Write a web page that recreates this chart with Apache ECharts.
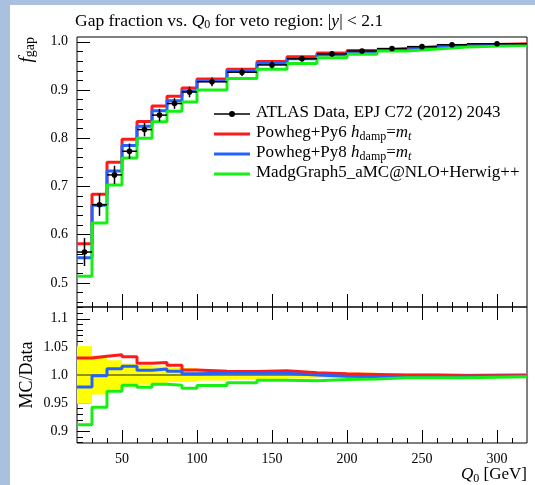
<!DOCTYPE html>
<html>
<head>
<meta charset="utf-8">
<script src="https://cdn.jsdelivr.net/npm/echarts@6/dist/echarts.min.js"></script>
<style>
  html, body { margin: 0; padding: 0; background: #fff; }
  #chart { width: 535px; height: 485px; }
</style>
</head>
<body>
<div id="chart"></div>
<script>
// Q0 bin edges [GeV]
const binEdges = [20, 30, 40, 50, 60, 70, 80, 90, 100, 120, 140, 160, 180, 200, 220, 240, 260, 280, 320];

// Gap fraction, ATLAS data and its uncertainty
const atlasData = [0.564, 0.662, 0.724, 0.773, 0.818, 0.848, 0.872, 0.896, 0.917, 0.937, 0.952, 0.965, 0.975, 0.981, 0.986, 0.990, 0.994, 0.996];
const atlasErr  = [0.029, 0.023, 0.019, 0.016, 0.014, 0.013, 0.011, 0.011, 0.009, 0.008, 0.007, 0.006, 0.005, 0.004, 0.003, 0.003, 0.003, 0.003];

// Generator predictions
const powhegPy6 = [0.581, 0.684, 0.750, 0.798, 0.835, 0.867, 0.887, 0.904, 0.923, 0.943, 0.959, 0.969, 0.977, 0.982, 0.986, 0.990, 0.993, 0.996];
const powhegPy8 = [0.552, 0.661, 0.732, 0.785, 0.825, 0.857, 0.878, 0.898, 0.920, 0.940, 0.955, 0.965, 0.973, 0.978, 0.983, 0.987, 0.992, 0.994];
const mg5Herwig = [0.514, 0.624, 0.703, 0.759, 0.800, 0.834, 0.856, 0.875, 0.900, 0.924, 0.943, 0.955, 0.967, 0.974, 0.981, 0.985, 0.989, 0.993];

// Axis ticks and labels
const xMajorTicks = [50, 100, 150, 200, 250, 300];
const xTickLabels = ['50', '100', '150', '200', '250', '300'];
const mainYTicks = [0.5, 0.6, 0.7, 0.8, 0.9, 1.0];
const mainYTickLabels = ['0.5', '0.6', '0.7', '0.8', '0.9', '1.0'];
const ratioYTicks = [0.9, 0.95, 1.0, 1.05, 1.1];
const ratioYTickLabels = ['0.9', '0.95', '1.0', '1.05', '1.1'];

function steps(lo, hi, step) {
  const out = [];
  for (let v = lo; v <= hi + 1e-9; v += step) out.push(+v.toFixed(4));
  return out;
}
const xMinorTicks = steps(30, 310, 10);
const mainYMinor = steps(0.46, 1.0, 0.02);
const ratioYMinor = steps(0.88, 1.12, 0.01);

const SERIF = 'Liberation Serif';
const RED = '#ff1a1a', BLUE = '#2462ff', GREEN = '#14f014';

// histogram outline: one point per lower edge plus the final upper edge
function histPoints(vals) {
  const pts = vals.map((v, i) => [binEdges[i], v]);
  pts.push([binEdges[binEdges.length - 1], vals[vals.length - 1]]);
  return pts;
}
const ratioOf = (mc) => mc.map((v, i) => v / atlasData[i]);

const dataRows = atlasData.map((v, i) => [binEdges[i], binEdges[i + 1], v, atlasErr[i]]);
const bandRows = atlasData.map((v, i) => [binEdges[i], binEdges[i + 1], atlasErr[i] / v]);

function xAxisDef(grid, pos, ticks, len, labels) {
  return {
    type: 'value', gridIndex: grid, position: pos, min: 20, max: 320,
    axisLine: { show: false }, splitLine: { show: false },
    axisTick: { show: true, inside: true, length: len, customValues: ticks,
                lineStyle: { color: '#000', width: 1 } },
    axisLabel: labels ? {
      show: true, customValues: xMajorTicks, margin: 9,
      fontFamily: SERIF, fontSize: 14, color: '#000',
      formatter: (v) => xTickLabels[xMajorTicks.indexOf(v)]
    } : { show: false }
  };
}
function yAxisDef(grid, min, max, ticks, len, labelVals, labelTexts) {
  return {
    type: 'value', gridIndex: grid, position: 'left', min: min, max: max,
    axisLine: { show: false }, splitLine: { show: false },
    axisTick: { show: true, inside: true, length: len, customValues: ticks,
                lineStyle: { color: '#000', width: 1 } },
    axisLabel: labelVals ? {
      show: true, customValues: labelVals, margin: 9,
      fontFamily: SERIF, fontSize: 14, color: '#000',
      formatter: (v) => labelTexts[labelVals.findIndex(t => Math.abs(t - v) < 1e-6)]
    } : { show: false }
  };
}

function stepLine(name, vals, color, xi, yi) {
  return {
    name: name, type: 'line', step: 'end', data: histPoints(vals),
    xAxisIndex: xi, yAxisIndex: yi, showSymbol: false, symbol: 'none',
    lineStyle: { color: color, width: 3 }, silent: true, z: 3
  };
}

const richText = {
  n: { fontFamily: SERIF, fontSize: 17, lineHeight: 20, fill: '#000' },
  i: { fontFamily: SERIF, fontSize: 17, lineHeight: 20, fontStyle: 'italic', fill: '#000' },
  s: { fontFamily: SERIF, fontSize: 12, lineHeight: 12, verticalAlign: 'bottom', fill: '#000' },
  si: { fontFamily: SERIF, fontSize: 12, lineHeight: 12, verticalAlign: 'bottom', fontStyle: 'italic', fill: '#000' }
};

const legendX0 = 214, legendX1 = 250, legendTextX = 256;
const legendRows = [
  { y: 114, color: '#000', dot: true, text: '{n|ATLAS Data, EPJ C72 (2012) 2043}' },
  { y: 134, color: RED, text: '{n|Powheg+Py6 }{i|h}{s|damp}{n|=}{i|m}{si|t}' },
  { y: 154, color: BLUE, text: '{n|Powheg+Py8 }{i|h}{s|damp}{n|=}{i|m}{si|t}' },
  { y: 174, color: GREEN, text: '{n|MadgGraph5_aMC@NLO+Herwig++}' }
];
const legendGraphics = [];
legendRows.forEach(r => {
  legendGraphics.push({ type: 'line', shape: { x1: legendX0, y1: r.y, x2: legendX1, y2: r.y },
    style: { stroke: r.color, lineWidth: r.dot ? 1.5 : 3 }, z: 10 });
  if (r.dot) legendGraphics.push({ type: 'circle', shape: { cx: (legendX0 + legendX1) / 2, cy: r.y, r: 3 },
    style: { fill: '#000' }, z: 11 });
  legendGraphics.push({ type: 'text', x: legendTextX, y: r.y - 1, z: 10,
    style: { text: r.text, rich: richText, align: 'left', verticalAlign: 'middle' } });
});

const chart = echarts.init(document.getElementById('chart'), null, { renderer: 'canvas' });
chart.setOption({
  animation: false,
  backgroundColor: '#fff',
  grid: [
    { left: 77, right: 8, top: 37, height: 270, show: true, borderColor: '#000', borderWidth: 1,
      backgroundColor: 'transparent', containLabel: false, outerBoundsMode: 'none' },
    { left: 77, right: 8, top: 307, height: 136, show: true, borderColor: '#000', borderWidth: 1,
      backgroundColor: 'transparent', containLabel: false, outerBoundsMode: 'none' }
  ],
  xAxis: [
    xAxisDef(0, 'bottom', xMajorTicks, 13, false),
    xAxisDef(0, 'bottom', xMinorTicks, 5, false),
    xAxisDef(1, 'bottom', xMajorTicks, 13, true),
    xAxisDef(1, 'bottom', xMinorTicks, 5, false),
    xAxisDef(1, 'top', xMajorTicks, 13, false),
    xAxisDef(1, 'top', xMinorTicks, 5, false)
  ],
  yAxis: [
    yAxisDef(0, 0.45, 1.01, mainYTicks, 13, mainYTicks, mainYTickLabels),
    yAxisDef(0, 0.45, 1.01, mainYMinor, 6, null, null),
    yAxisDef(1, 0.879, 1.121, ratioYTicks, 13, ratioYTicks, ratioYTickLabels),
    yAxisDef(1, 0.879, 1.121, ratioYMinor, 6, null, null)
  ],
  series: [
    stepLine('Powheg+Py6', powhegPy6, RED, 0, 0),
    stepLine('Powheg+Py8', powhegPy8, BLUE, 0, 0),
    stepLine('MG5_aMC@NLO+Herwig++', mg5Herwig, GREEN, 0, 0),
    {
      name: 'ATLAS Data', type: 'custom', xAxisIndex: 0, yAxisIndex: 0, z: 5, silent: true,
      data: dataRows, encode: { x: [0, 1], y: 2 },
      renderItem: (params, api) => {
        const lo = api.value(0), hi = api.value(1), v = api.value(2), e = api.value(3);
        const mid = (lo + hi) / 2;
        const a = api.coord([lo, v]), b = api.coord([hi, v]);
        const t = api.coord([mid, v + e]), d = api.coord([mid, v - e]);
        const c = api.coord([mid, v]);
        return { type: 'group', children: [
          { type: 'line', shape: { x1: a[0], y1: a[1], x2: b[0], y2: b[1] }, style: { stroke: '#000', lineWidth: 1.5 } },
          { type: 'line', shape: { x1: t[0], y1: t[1], x2: d[0], y2: d[1] }, style: { stroke: '#000', lineWidth: 1.5 } },
          { type: 'circle', shape: { cx: c[0], cy: c[1], r: 2.8 }, style: { fill: '#000' } }
        ] };
      }
    },
    {
      name: 'Data uncertainty', type: 'custom', xAxisIndex: 2, yAxisIndex: 2, z: 1, silent: true,
      data: bandRows, encode: { x: [0, 1], y: 2 },
      renderItem: (params, api) => {
        const lo = api.value(0), hi = api.value(1), r = api.value(2);
        const p = api.coord([lo, 1 + r]), q = api.coord([hi, 1 - r]);
        return { type: 'rect', shape: { x: p[0], y: p[1], width: q[0] - p[0], height: q[1] - p[1] },
                 style: { fill: '#ffff00' } };
      }
    },
    {
      name: 'Data ratio', type: 'line', xAxisIndex: 2, yAxisIndex: 2, z: 2, silent: true,
      data: histPoints(ratioOf(atlasData)), step: 'end', showSymbol: false, symbol: 'none',
      lineStyle: { color: '#222', width: 1 }
    },
    stepLine('Powheg+Py6 ratio', ratioOf(powhegPy6), RED, 2, 2),
    stepLine('Powheg+Py8 ratio', ratioOf(powhegPy8), BLUE, 2, 2),
    stepLine('MG5 ratio', ratioOf(mg5Herwig), GREEN, 2, 2)
  ],
  graphic: [
    { type: 'rect', shape: { x: 0, y: 0, width: 10, height: 485 }, style: { fill: '#a9c1df' }, z: 20 },
    { type: 'rect', shape: { x: 0, y: 0, width: 535, height: 5 }, style: { fill: '#a9c1df' }, z: 20 },
    { type: 'text', x: 75, y: 21, z: 10,
      style: { text: '{n|Gap fraction vs. }{i|Q}{s|0}{n| for veto region: |}{i|y}{n|| < 2.1}',
               rich: { n: { fontFamily: SERIF, fontSize: 17.5, lineHeight: 20, fill: '#000' },
                       i: { fontFamily: SERIF, fontSize: 17.5, lineHeight: 20, fontStyle: 'italic', fill: '#000' },
                       s: { fontFamily: SERIF, fontSize: 12, lineHeight: 12, verticalAlign: 'bottom', fill: '#000' } },
               align: 'left', verticalAlign: 'middle' } },
    { type: 'text', x: 27, y: 37, rotation: Math.PI / 2, z: 10,
      style: { text: '{i|f}{s|gap}',
               rich: { i: { fontFamily: SERIF, fontSize: 19, lineHeight: 20, fontStyle: 'italic', fill: '#000' },
                       s: { fontFamily: SERIF, fontSize: 14, lineHeight: 13, verticalAlign: 'bottom', fill: '#000' } },
               align: 'right', verticalAlign: 'middle' } },
    { type: 'text', x: 27, y: 375, rotation: Math.PI / 2, z: 10,
      style: { text: 'MC/Data', fontFamily: SERIF, fontSize: 18, fill: '#000', align: 'center', verticalAlign: 'middle' } },
    { type: 'text', x: 527, y: 475, z: 10,
      style: { text: '{i|Q}{s|0}{n| [GeV]}', rich: richText, align: 'right', verticalAlign: 'middle' } }
  ].concat(legendGraphics)
});
</script>
</body>
</html>
